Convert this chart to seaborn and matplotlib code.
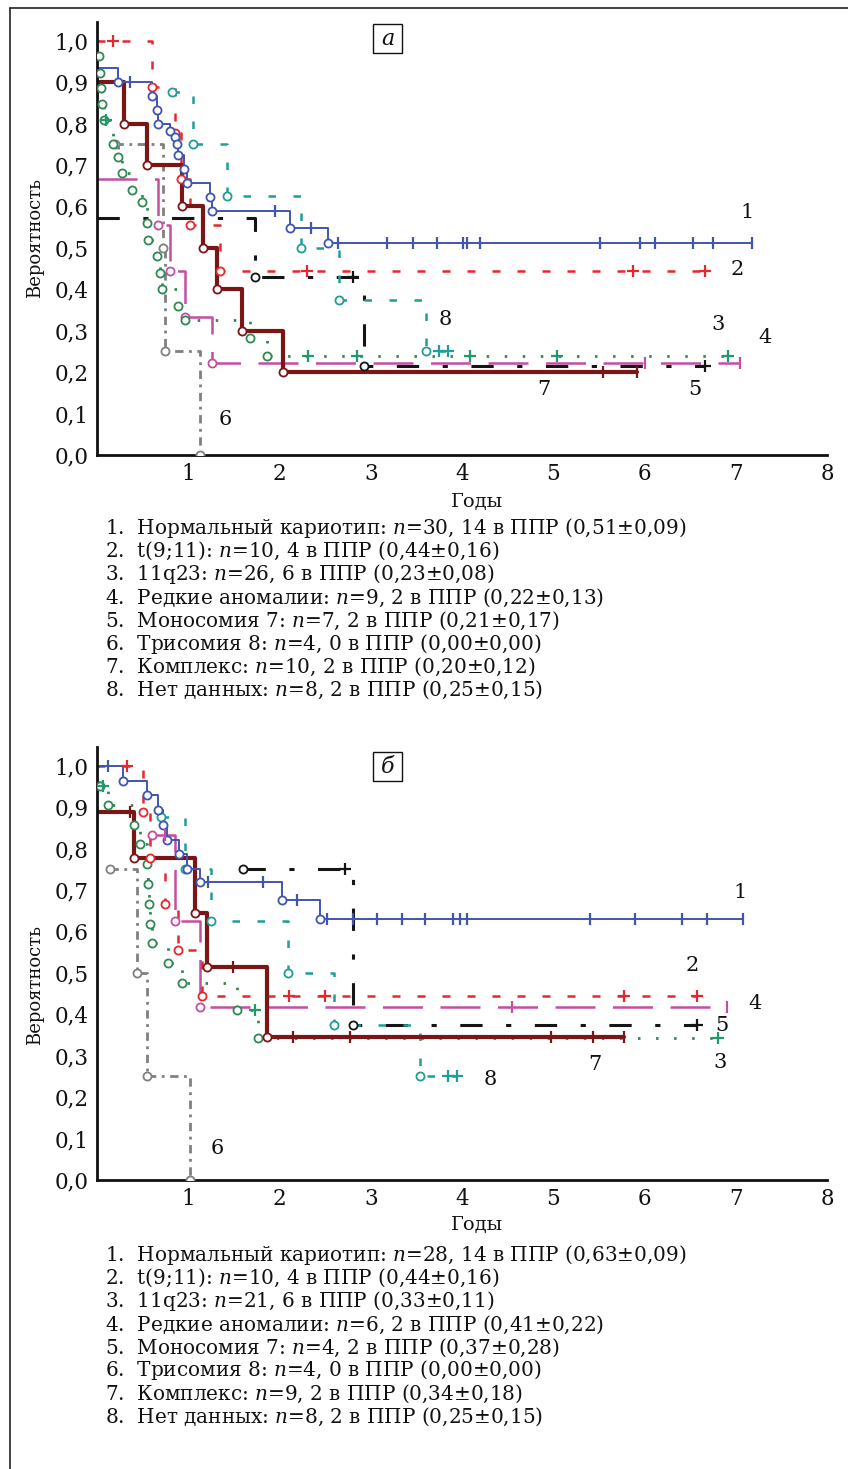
import numpy as np
import matplotlib
matplotlib.use("Agg")
import matplotlib.pyplot as plt
from matplotlib.patches import Rectangle
from matplotlib.lines import Line2D
import seaborn as sns

sns.set_style("white")
plt.rcParams["font.family"] = ["DejaVu Serif", "Liberation Serif"]
plt.rcParams["mathtext.fontset"] = "custom"
plt.rcParams["mathtext.rm"] = "DejaVu Serif"
plt.rcParams["mathtext.it"] = "DejaVu Serif:italic"

# ---- panel a: step times, survival levels, censored times ----
A1_T = [0, 0.23, 0.60, 0.66, 0.67, 0.80, 0.85, 0.88, 0.89, 0.95, 0.99, 1.24, 1.26, 2.11, 2.53]
A1_S = [0.933, 0.90, 0.867, 0.833, 0.80, 0.783, 0.767, 0.75, 0.725, 0.69, 0.657, 0.623, 0.59, 0.548, 0.512]
A1_C = [0.36, 1.95, 2.35, 2.64, 3.18, 3.46, 3.73, 4.01, 4.05, 4.20, 5.51, 5.95, 6.12, 6.53, 6.75, 7.18]

A2_T = [0, 0.60, 0.85, 0.92, 1.02, 1.35]
A2_S = [1.0, 0.889, 0.778, 0.667, 0.556, 0.444]
A2_C = [0.18, 2.30, 5.87, 6.66]

A3_T = [0, 0.02, 0.03, 0.04, 0.05, 0.08, 0.18, 0.23, 0.27, 0.38, 0.49, 0.55, 0.56, 0.66, 0.69, 0.71, 0.89, 0.96, 1.68, 1.86]
A3_S = [1.0, 0.962, 0.923, 0.885, 0.846, 0.808, 0.75, 0.72, 0.68, 0.64, 0.61, 0.56, 0.52, 0.48, 0.44, 0.40, 0.36, 0.326, 0.283, 0.24]
A3_C = [0.10, 2.31, 2.85, 4.09, 5.04, 6.92]

A4_T = [0, 0.67, 0.80, 0.96, 1.26]
A4_S = [0.667, 0.556, 0.444, 0.333, 0.222]
A4_C = [6.00, 7.05]

A5_T = [0, 1.73, 2.93]
A5_S = [0.571, 0.429, 0.214]
A5_C = [2.80, 6.66]

A6_T = [0.20, 0.72, 0.74, 1.13]
A6_S = [0.75, 0.50, 0.25, 0.0]
A6_C = []

A7_T = [0, 0.30, 0.55, 0.93, 1.16, 1.32, 1.59, 2.04]
A7_S = [0.9, 0.8, 0.7, 0.6, 0.5, 0.4, 0.3, 0.2]
A7_C = [5.55, 5.92]

A8_T = [0.82, 1.05, 1.43, 2.24, 2.65, 3.60]
A8_S = [0.875, 0.75, 0.625, 0.5, 0.375, 0.25]
A8_C = [3.75, 3.85]

# ---- panel б ----
B1_T = [0, 0.28, 0.55, 0.67, 0.72, 0.77, 0.90, 0.99, 1.13, 2.03, 2.44]
B1_S = [1.0, 0.964, 0.929, 0.893, 0.857, 0.821, 0.786, 0.75, 0.72, 0.676, 0.63]
B1_C = [0.12, 1.22, 1.82, 2.19, 2.52, 2.81, 3.07, 3.34, 3.59, 3.90, 3.98, 4.05, 5.40, 5.90, 6.41, 6.68, 7.08]

B2_T = [0, 0.50, 0.58, 0.74, 0.89, 1.15]
B2_S = [1.0, 0.889, 0.778, 0.667, 0.556, 0.444]
B2_C = [0.33, 2.10, 2.50, 5.77, 6.58]

B3_T = [0, 0.03, 0.12, 0.40, 0.47, 0.55, 0.56, 0.57, 0.58, 0.60, 0.78, 0.93, 1.53, 1.76]
B3_S = [1.0, 0.952, 0.905, 0.857, 0.81, 0.762, 0.714, 0.667, 0.619, 0.571, 0.524, 0.476, 0.41, 0.343]
B3_C = [0.07, 1.73, 6.80]

B4_T = [0.60, 0.85, 1.13]
B4_S = [0.833, 0.625, 0.417]
B4_C = [0.75, 4.55, 6.90]

B5_T = [1.60, 2.80]
B5_S = [0.75, 0.375]
B5_C = [2.72, 6.58]

B6_T = [0.14, 0.44, 0.55, 1.02]
B6_S = [0.75, 0.50, 0.25, 0.0]
B6_C = []

B7_T = [0, 0.40, 1.07, 1.20, 1.86]
B7_S = [0.889, 0.778, 0.645, 0.515, 0.345]
B7_C = [0.36, 1.49, 2.15, 2.77, 4.97, 5.44, 5.77]

B8_T = [0.70, 0.96, 1.25, 2.09, 2.60, 3.54]
B8_S = [0.875, 0.75, 0.625, 0.5, 0.375, 0.25]
B8_C = [3.85, 3.95]

# curve number labels (x, y in data units)
A_LABEL_X = [7.13, 7.02, 6.81, 7.32, 6.55, 1.40, 4.90, 3.82]
A_LABEL_Y = [0.585, 0.447, 0.314, 0.283, 0.157, 0.085, 0.157, 0.326]
B_LABEL_X = [7.05, 6.52, 6.83, 7.21, 6.85, 1.32, 5.46, 4.31]
B_LABEL_Y = [0.693, 0.517, 0.283, 0.427, 0.374, 0.077, 0.278, 0.242]

Y_TICKS = [0.0, 0.1, 0.2, 0.3, 0.4, 0.5, 0.6, 0.7, 0.8, 0.9, 1.0]
Y_TICK_LABELS = ["0,0", "0,1", "0,2", "0,3", "0,4", "0,5", "0,6", "0,7", "0,8", "0,9", "1,0"]
X_TICKS = [1, 2, 3, 4, 5, 6, 7, 8]

A_LEGEND = [
    "1.  Нормальный кариотип: $n$=30, 14 в ППР (0,51±0,09)",
    "2.  t(9;11): $n$=10, 4 в ППР (0,44±0,16)",
    "3.  11q23: $n$=26, 6 в ППР (0,23±0,08)",
    "4.  Редкие аномалии: $n$=9, 2 в ППР (0,22±0,13)",
    "5.  Моносомия 7: $n$=7, 2 в ППР (0,21±0,17)",
    "6.  Трисомия 8: $n$=4, 0 в ППР (0,00±0,00)",
    "7.  Комплекс: $n$=10, 2 в ППР (0,20±0,12)",
    "8.  Нет данных: $n$=8, 2 в ППР (0,25±0,15)",
]
B_LEGEND = [
    "1.  Нормальный кариотип: $n$=28, 14 в ППР (0,63±0,09)",
    "2.  t(9;11): $n$=10, 4 в ППР (0,44±0,16)",
    "3.  11q23: $n$=21, 6 в ППР (0,33±0,11)",
    "4.  Редкие аномалии: $n$=6, 2 в ППР (0,41±0,22)",
    "5.  Моносомия 7: $n$=4, 2 в ППР (0,37±0,28)",
    "6.  Трисомия 8: $n$=4, 0 в ППР (0,00±0,00)",
    "7.  Комплекс: $n$=9, 2 в ППР (0,34±0,18)",
    "8.  Нет данных: $n$=8, 2 в ППР (0,25±0,15)",
]

COLORS = ["#3f56b0", "#e8262d", "#2f8a52", "#c24fa0", "#151515", "#808080", "#7b1616", "#1e9e96"]
STYLES = ["-", (0, (3.2, 6.8)), (0, (0.9, 5.6)), (0, (16, 7)), (0, (7.3, 7.7, 1.7, 7.7)),
          (0, (3, 2, 1, 2)), "-", (0, (3, 7))]
WIDTHS = [1.4, 1.8, 2.0, 1.8, 2.2, 2.0, 3.0, 1.8]
CMARK = ["|", "+", "+", "|", "+", "+", "|", "+"]
CENS_COLOR = ["#3f56b0", "#e8262d", "#1f9a6a", "#c24fa0", "#151515", "#808080", "#7b1616", "#1e9e96"]

W, H = 848, 1469
TXT = "#111111"


def fx(px):
    return px / W


def fy(py):
    return 1 - py / H


def level_at(t, s, tc):
    i = np.searchsorted(t, tc, side="right") - 1
    return s[max(i, 0)]


def draw_curve(ax, t, s, cens, k):
    t = list(t)
    s = list(s)
    end = max([t[-1]] + list(cens))
    xs = t + [end]
    ys = s + [s[-1]]
    sns.lineplot(x=xs, y=ys, ax=ax, color=COLORS[k], linewidth=WIDTHS[k], linestyle=STYLES[k],
                 drawstyle="steps-post", estimator=None, sort=False, legend=False, zorder=2)
    # open circles at events (and at the first point if the curve starts late)
    ev_x = t[1:]
    ev_y = s[1:]
    if t[0] > 0:
        ev_x = [t[0]] + ev_x
        ev_y = [s[0]] + ev_y
    if ev_x:
        sns.scatterplot(x=ev_x, y=ev_y, ax=ax, marker="o", s=34, color="white",
                        edgecolor=COLORS[k], linewidth=1.3, zorder=4, legend=False)
    # censored marks
    if cens:
        cy = [level_at(t, s, c) for c in cens]
        sns.scatterplot(x=cens, y=cy, ax=ax, marker=CMARK[k], s=70, color=CENS_COLOR[k],
                        edgecolor=None, linewidth=1.6, zorder=5, legend=False)


def setup_axes(ax):
    ax.set_xlim(0, 8)
    ax.set_ylim(0, 1.045)
    ax.set_yticks(Y_TICKS)
    ax.set_yticklabels(Y_TICK_LABELS)
    ax.set_xticks(X_TICKS)
    ax.set_xticklabels([str(v) for v in X_TICKS])
    ax.tick_params(axis="both", direction="in", length=3, width=1.5, labelsize=15.5,
                   colors=TXT, pad=6)
    sns.despine(ax=ax, top=True, right=True)
    for sp in ["left", "bottom"]:
        ax.spines[sp].set_linewidth(2.0)
        ax.spines[sp].set_color(TXT)
    ax.set_xlabel("")
    ax.set_ylabel("Вероятность", fontsize=13, color=TXT)


fig = plt.figure(figsize=(W / 100, H / 100), dpi=100)

panels = [
    dict(top=22, bottom=455, curves=[(A1_T, A1_S, A1_C), (A2_T, A2_S, A2_C), (A3_T, A3_S, A3_C),
                                     (A4_T, A4_S, A4_C), (A5_T, A5_S, A5_C), (A6_T, A6_S, A6_C),
                                     (A7_T, A7_S, A7_C), (A8_T, A8_S, A8_C)],
         lx=A_LABEL_X, ly=A_LABEL_Y, tag="а", tag_y=24, xlab_y=502, legend=A_LEGEND, leg_y0=528,
         ylab_y=0.50),
    dict(top=747, bottom=1180, curves=[(B1_T, B1_S, B1_C), (B2_T, B2_S, B2_C), (B3_T, B3_S, B3_C),
                                       (B4_T, B4_S, B4_C), (B5_T, B5_S, B5_C), (B6_T, B6_S, B6_C),
                                       (B7_T, B7_S, B7_C), (B8_T, B8_S, B8_C)],
         lx=B_LABEL_X, ly=B_LABEL_Y, tag="б", tag_y=752, xlab_y=1225, legend=B_LEGEND, leg_y0=1255,
         ylab_y=0.45),
]

draw_order = [5, 4, 3, 2, 7, 1, 6, 0]

for p in panels:
    ax = fig.add_axes([fx(97), fy(p["bottom"]), fx(827) - fx(97), (p["bottom"] - p["top"]) / H])
    ax.set_facecolor("white")
    for k in draw_order:
        t, s, c = p["curves"][k]
        draw_curve(ax, t, s, c, k)
    for k in range(8):
        ax.text(p["lx"][k], p["ly"][k], str(k + 1), fontsize=15, ha="center", va="center", color=TXT)
    setup_axes(ax)
    ax.yaxis.set_label_coords(-0.072, p["ylab_y"])

    # panel tag in a small box
    fig.add_artist(Rectangle((fx(373), fy(p["tag_y"] + 29)), 29 / W, 29 / H, transform=fig.transFigure,
                             fill=False, edgecolor=TXT, linewidth=1.0))
    fig.text(fx(387.5), fy(p["tag_y"] + 15), p["tag"], fontsize=16, style="italic",
             ha="center", va="center", color=TXT)

    fig.text(fx(477), fy(p["xlab_y"]), "Годы", fontsize=14, ha="center", va="center", color=TXT)

    for i, line in enumerate(p["legend"]):
        fig.text(fx(105), fy(p["leg_y0"] + i * 23.1), line, fontsize=14.4, ha="left", va="center",
                 color=TXT)

# outer frame (top and left edges visible)
fig.add_artist(Line2D([fx(10), 1.0], [fy(8), fy(8)], transform=fig.transFigure, color="#222222", lw=1.2))
fig.add_artist(Line2D([fx(10), fx(10)], [fy(8), 0.0], transform=fig.transFigure, color="#222222", lw=1.2))

fig.savefig("out.png", dpi=100)
